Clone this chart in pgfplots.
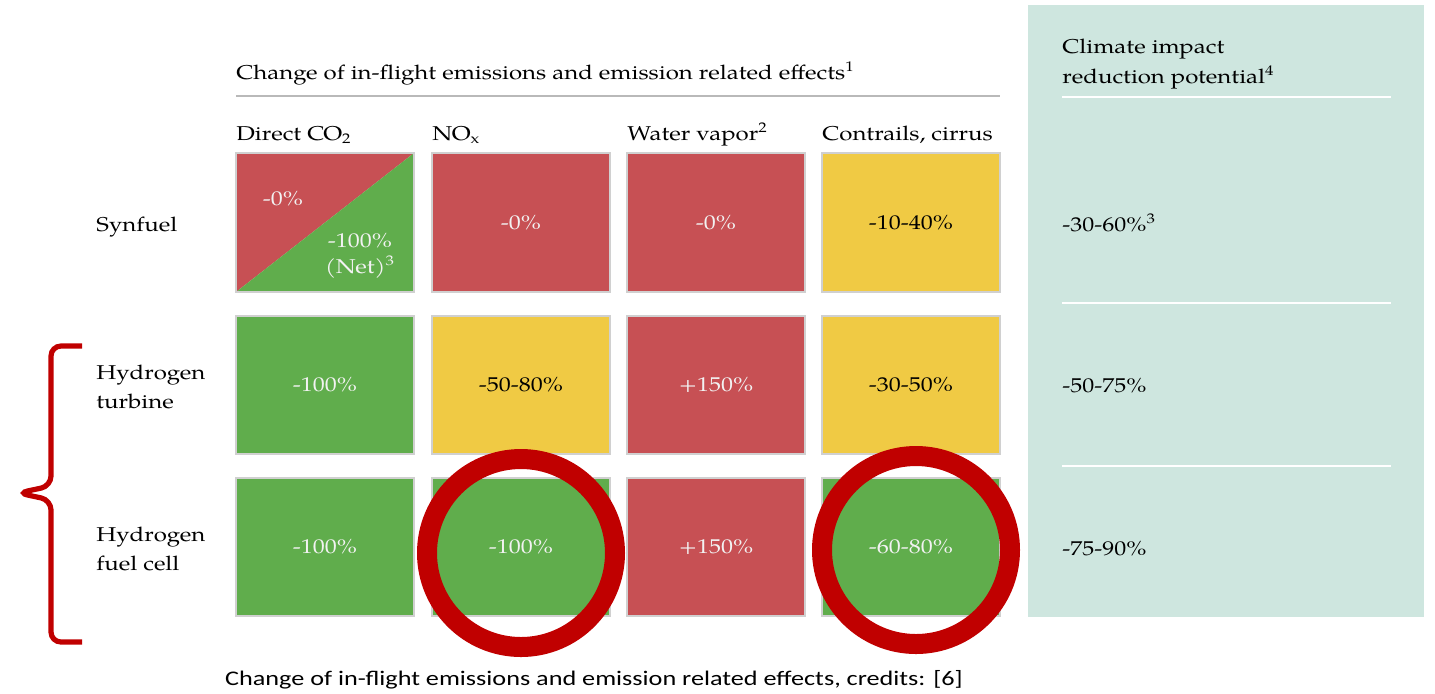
\documentclass[border=0pt]{standalone}
\usepackage{fontspec}
\setmainfont{texgyrepagella}[Extension=.otf,UprightFont=*-regular,BoldFont=*-bold,ItalicFont=*-italic,BoldItalicFont=*-bolditalic,FakeStretch=1.2]
\newfontfamily\capfont{Carlito}[FakeStretch=1.26]
\usepackage{pgfplots}
\pgfplotsset{compat=1.18}
\definecolor{cred}{RGB}{199,80,84}
\definecolor{cgreen}{RGB}{96,173,76}
\definecolor{cyellow}{RGB}{240,202,68}
\definecolor{cteal}{RGB}{206,230,223}
\definecolor{ring}{RGB}{192,0,0}
\definecolor{cborder}{RGB}{208,208,208}
\definecolor{wtext}{RGB}{242,242,242}
\newcommand{\cell}[5]{\addplot[fill=#1,draw=cborder,line width=1pt] coordinates {(#2,#3) (#4,#3) (#4,#5) (#2,#5)} --cycle;}
\begin{document}
\begin{tikzpicture}[every node/.style={font=\fontsize{10}{14.5}\selectfont, inner sep=0pt}]
\begin{axis}[x=0.5pt,y=0.5pt,xmin=0,xmax=1435,ymin=0,ymax=693,y dir=reverse,
  hide axis, clip=false, scale only axis]
\coordinate (bl) at (axis cs:0,693);
\coordinate (tr) at (axis cs:1435,0);
% teal panel
\addplot[fill=cteal,draw=none] coordinates {(1028,5) (1424,5) (1424,617) (1028,617)} --cycle;
\addplot[draw=white,line width=1pt] coordinates {(1062,97) (1391,97)};
\addplot[draw=white,line width=1pt] coordinates {(1062,303) (1391,303)};
\addplot[draw=white,line width=1pt] coordinates {(1062,466) (1391,466)};
% header line
\addplot[draw=gray!55,line width=0.6pt] coordinates {(236,96) (1000,96)};
% row 1
\addplot[fill=cred,draw=none] coordinates {(236,153) (414,153) (236,292)} --cycle;
\addplot[fill=cgreen,draw=none] coordinates {(414,153) (414,292) (236,292)} --cycle;
\addplot[draw=cborder,line width=1pt] coordinates {(236,153) (414,153) (414,292) (236,292)} --cycle;
\cell{cred}{432}{153}{610}{292}
\cell{cred}{627}{153}{805}{292}
\cell{cyellow}{822}{153}{1000}{292}
% row 2
\cell{cgreen}{236}{316}{414}{454}
\cell{cyellow}{432}{316}{610}{454}
\cell{cred}{627}{316}{805}{454}
\cell{cyellow}{822}{316}{1000}{454}
% row 3
\cell{cgreen}{236}{478}{414}{616}
\cell{cgreen}{432}{478}{610}{616}
\cell{cred}{627}{478}{805}{616}
\cell{cgreen}{822}{478}{1000}{616}
% bracket
\addplot[draw=ring,line width=2.6pt,rounded corners=5pt] coordinates {(82,346) (51,346) (51,486) (18,493) (51,500) (51,642) (82,642)};
% texts
\node[anchor=base west] at (axis cs:236,79) {Change of in-flight emissions and emission related effects\textsuperscript{1}};
\node[anchor=base west] at (axis cs:236,140) {Direct CO\textsubscript{2}};
\node[anchor=base west] at (axis cs:432,140) {NO\textsubscript{x}};
\node[anchor=base west] at (axis cs:627,140) {Water vapor\textsuperscript{2}};
\node[anchor=base west] at (axis cs:822,140) {Contrails, cirrus};
\node[anchor=base west] at (axis cs:96,231) {Synfuel};
\node[anchor=base west,align=left] at (axis cs:96,408) {Hydrogen\\turbine};
\node[anchor=base west,align=left] at (axis cs:96,570) {Hydrogen\\fuel cell};
% cell texts
\node[anchor=base,text=wtext] at (axis cs:283,205) {-0\%};
\node[anchor=base,text=wtext] at (axis cs:360,247) {-100\%};
\node[anchor=base,text=wtext] at (axis cs:360,273) {(Net)\textsuperscript{3}};
\node[anchor=base,text=wtext] at (axis cs:521,229) {-0\%};
\node[anchor=base,text=wtext] at (axis cs:716,229) {-0\%};
\node[anchor=base] at (axis cs:911,229) {-10-40\%};
\node[anchor=base,text=wtext] at (axis cs:325,391.5) {-100\%};
\node[anchor=base] at (axis cs:521,391.5) {-50-80\%};
\node[anchor=base,text=wtext] at (axis cs:716,391.5) {+150\%};
\node[anchor=base] at (axis cs:911,391.5) {-30-50\%};
\node[anchor=base,text=wtext] at (axis cs:325,553.5) {-100\%};
\node[anchor=base,text=wtext] at (axis cs:521,553.5) {-100\%};
\node[anchor=base,text=wtext] at (axis cs:716,553.5) {+150\%};
\node[anchor=base,text=wtext] at (axis cs:911,553.5) {-60-80\%};
% circles
\addplot[only marks, mark=o, mark size=47pt, mark options={draw=ring, fill=none, line width=10pt}] coordinates {(521,553) (916,550)};
% teal texts
\node[anchor=base west] at (axis cs:1062,53) {Climate impact};
\node[anchor=base west] at (axis cs:1062,83) {reduction potential\textsuperscript{4}};
\node[anchor=base west] at (axis cs:1062,231) {-30-60\%\textsuperscript{3}};
\node[anchor=base west] at (axis cs:1062,392.5) {-50-75\%};
\node[anchor=base west] at (axis cs:1062,555.5) {-75-90\%};
% caption
\node[anchor=base,font=\capfont\fontsize{10.4}{12}\selectfont] at (axis cs:594,685) {Change of in-flight emissions and emission related effects, credits: [6]};
\end{axis}
\pgfresetboundingbox
\useasboundingbox (bl) rectangle (tr);
\end{tikzpicture}
\end{document}
